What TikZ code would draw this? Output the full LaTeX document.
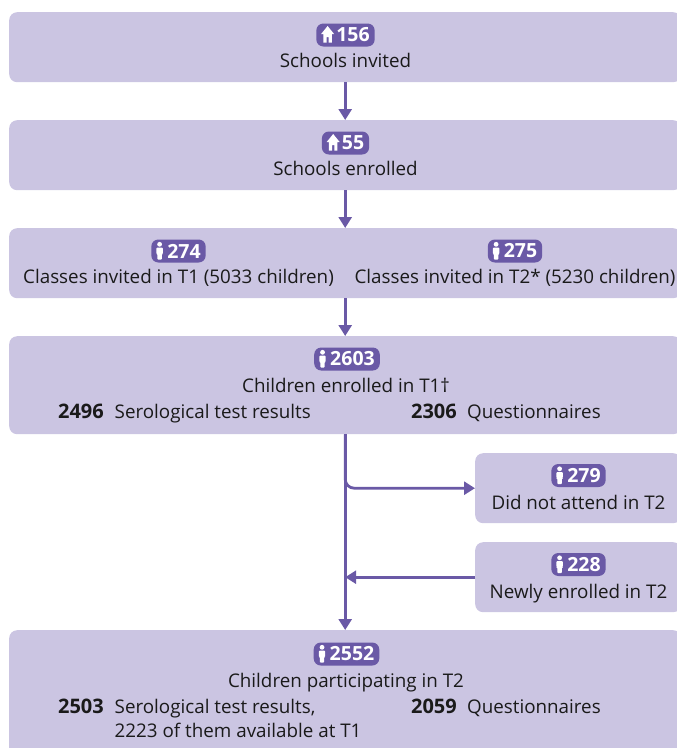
\documentclass[tikz,border=0pt]{standalone}
\usepackage{fontspec}
\setmainfont{Open Sans}
\usetikzlibrary{arrows.meta}
\definecolor{boxfill}{HTML}{CBC5E2}
\definecolor{accent}{HTML}{6A59A6}
\definecolor{ink}{HTML}{1A1A1A}
\tikzset{
  x=1pt,y=-1pt,
  stage/.style={fill=boxfill,rounded corners=8pt,minimum height=#1,minimum width=672pt,inner sep=0pt,anchor=north west},
  side/.style={fill=boxfill,rounded corners=8pt,minimum height=70pt,minimum width=206pt,inner sep=0pt,anchor=north west},
  label/.style={text=ink,font=\fontsize{18.8}{20}\selectfont,inner sep=0pt,anchor=base,yshift=-0.7pt},
  labelL/.style={label,anchor=base west},
  num/.style={label,anchor=base east,font=\fontsize{20}{20}\selectfont\bfseries},
  badge/.style={fill=accent,text=white,rounded corners=7pt,minimum height=23pt,inner sep=0pt,inner xsep=5pt,
    font=\fontsize{19.5}{20}\selectfont\bfseries},
  flow/.style={draw=accent,line width=2.8pt},
  tip/.style={-{Triangle[length=11pt,width=13pt]}},
  icon/.style={fill=white,draw=none},
}
\newcommand{\kidicon}[1]{%
  \begin{scope}[shift={(#1.west)}]
  \fill[icon] (8.5,-6.7) circle (2.4pt);
  \fill[icon,rounded corners=1pt] (5.3,-3.5) -- ++(6.4,0) -- ++(0,6.2) -- ++(-1,0) -- ++(0,6) -- ++(-4.4,0) -- ++(0,-6) -- ++(-1,0) -- cycle;
  \end{scope}
}
\newcommand{\homeicon}[1]{%
  \begin{scope}[shift={(#1.west)}]
  \fill[icon] (11.5,-9) -- (18,-1) -- (15.8,-1) -- (15.8,7.7) -- (12.6,7.7) -- (12.6,2) -- (10.4,2) -- (10.4,7.7) -- (7.2,7.7) -- (7.2,-1) -- (5,-1) -- cycle;
  \end{scope}
}
\newcommand{\kidgap}{\hspace{11pt}}
\newcommand{\homegap}{\hspace{15pt}}
\begin{document}
\begin{tikzpicture}
\useasboundingbox (0,0) rectangle (677,748);
\clip (0,0) rectangle (677,748);
% boxes
\node[stage=70pt] (invited) at (9,12) {};
\node[stage=70pt] (enrolled) at (9,120) {};
\node[stage=70pt] (classes) at (9,228) {};
\node[stage=98pt] (t1) at (9,336) {};
\node[side] (absent) at (475,453) {};
\node[side] (newly) at (475,542) {};
\node[stage=126pt] (t2) at (9,630) {};
% badges
\node[badge] (b156) at (345.5,35) {\homegap 156}; \homeicon{b156}
\node[badge] (b55) at (345.5,143) {\homegap 55}; \homeicon{b55}
\node[badge] (b274) at (178.5,251) {\kidgap 274}; \kidicon{b274}
\node[badge] (b275) at (515,251) {\kidgap 275}; \kidicon{b275}
\node[badge] (b2603) at (347,359) {\kidgap 2603}; \kidicon{b2603}
\node[badge] (b279) at (578.5,475.5) {\kidgap 279}; \kidicon{b279}
\node[badge] (b228) at (578.5,564.5) {\kidgap 228}; \kidicon{b228}
\node[badge] (b2552) at (346.5,654) {\kidgap 2552}; \kidicon{b2552}
% texts
\node[label] (t156) at (345.5,67) {Schools invited};
\node[label] (t55) at (345.5,175) {Schools enrolled};
\node[label] (t274) at (178.5,283) {Classes invited in T1 (5033 children)};
\node[label] (t275) at (515,283) {Classes invited in T2* (5230 children)};
\node[label] (t2603) at (346,391.5) {Children enrolled in T1†};
\node[num] (n2496) at (104,418) {2496};
\node[labelL] (s2496) at (114.5,418) {Serological test results};
\node[num] (n2306) at (457,418) {2306};
\node[labelL] (q2306) at (467,418) {Questionnaires};
\node[label] (t279) at (578.5,509) {Did not attend in T2};
\node[label] (t228) at (578.5,597.5) {Newly enrolled in T2};
\node[label] (t2552) at (346,686.5) {Children participating in T2};
\node[num] (n2503) at (104,712.5) {2503};
\node[labelL] (s2503) at (114.5,712.5) {Serological test results,};
\node[labelL] (s2223) at (114.5,736.5) {2223 of them available at T1};
\node[num] (n2059) at (457,712.5) {2059};
\node[labelL] (q2059) at (467,712.5) {Questionnaires};
% connectors
\draw[flow,tip] (invited.south) -- (enrolled.north);
\draw[flow,tip] (enrolled.south) -- (classes.north);
\draw[flow,tip] (classes.south) -- (t1.north);
\draw[flow,tip] (t1.south) -- (t2.north);
\draw[flow,tip,rounded corners=9pt] (t1.south) -- (t1.south |- absent.west) -- (absent.west);
\draw[flow,tip] (newly.west) -- (newly.west -| t1.south);
\end{tikzpicture}
\end{document}
